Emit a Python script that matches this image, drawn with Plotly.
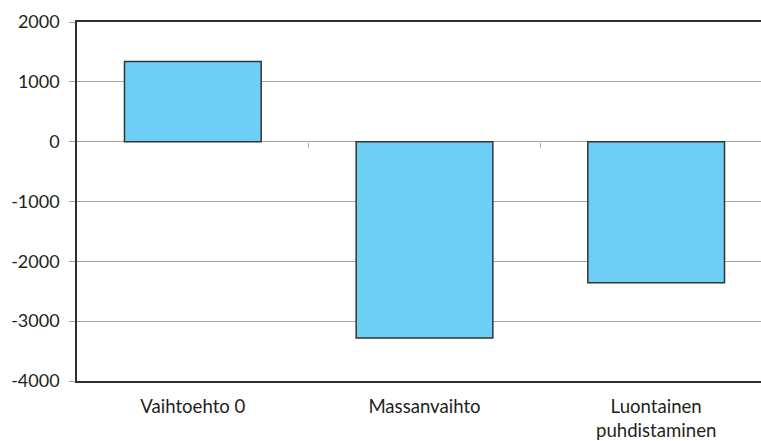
import plotly.graph_objects as go

# Chart data
categories = ["Vaihtoehto 0", "Massanvaihto", "Luontainen<br>puhdistaminen"]
values = [1340, -3280, -2360]
y_ticks = [-4000, -3000, -2000, -1000, 0, 1000, 2000]

FONT = "Lato, 'Open Sans', sans-serif"
TEXT = "#231f20"
AXIS = "#2e2e2e"
GRID = "#a6a6a6"

y_min, y_max = -4000, 2000
x_range = [-0.5, 2.4525]

fig = go.Figure()
fig.add_trace(go.Bar(
    x=list(range(len(categories))),
    y=values,
    marker=dict(color="#6dcff6", line=dict(color="#333333", width=1.5)),
    width=0.59,
    hoverinfo="x+y",
))

fig.update_layout(
    width=761,
    height=441,
    margin=dict(l=77, r=0, t=22, b=60),
    paper_bgcolor="white",
    plot_bgcolor="white",
    showlegend=False,
    font=dict(family=FONT, size=18, color=TEXT),
    xaxis=dict(
        range=x_range,
        tickmode="array",
        tickvals=list(range(len(categories))),
        ticktext=categories,
        showgrid=False,
        zeroline=False,
        showline=True,
        linecolor=AXIS,
        linewidth=1.5,
        mirror=True,
        ticks="",
        ticklabelstandoff=8,
        tickfont=dict(family=FONT, size=18.6, color=TEXT),
    ),
    # category boundary ticks drawn on the zero line
    xaxis2=dict(
        overlaying="x",
        anchor="free",
        position=(0 - y_min) / (y_max - y_min),
        side="bottom",
        range=x_range,
        tickmode="array",
        tickvals=[0.5, 1.5],
        showticklabels=False,
        ticks="outside",
        ticklen=5,
        tickwidth=1,
        tickcolor=GRID,
        showgrid=False,
        zeroline=False,
        showline=False,
    ),
    yaxis=dict(
        range=[y_min, y_max],
        tickmode="array",
        tickvals=y_ticks,
        ticktext=[str(v) for v in y_ticks],
        showgrid=True,
        gridcolor=GRID,
        gridwidth=1,
        zeroline=True,
        zerolinecolor=GRID,
        zerolinewidth=1,
        showline=True,
        linecolor=AXIS,
        linewidth=1.5,
        ticks="outside",
        ticklen=6,
        tickcolor=GRID,
        tickwidth=1,
        ticklabelstandoff=6,
        tickfont=dict(family=FONT, size=18, color=TEXT),
    ),
)

# invisible carrier so the overlay axis is rendered
fig.add_trace(go.Scatter(x=[0.5], y=[0], xaxis="x2", mode="markers",
                         marker=dict(opacity=0), hoverinfo="skip"))

fig.write_html("out.html")
